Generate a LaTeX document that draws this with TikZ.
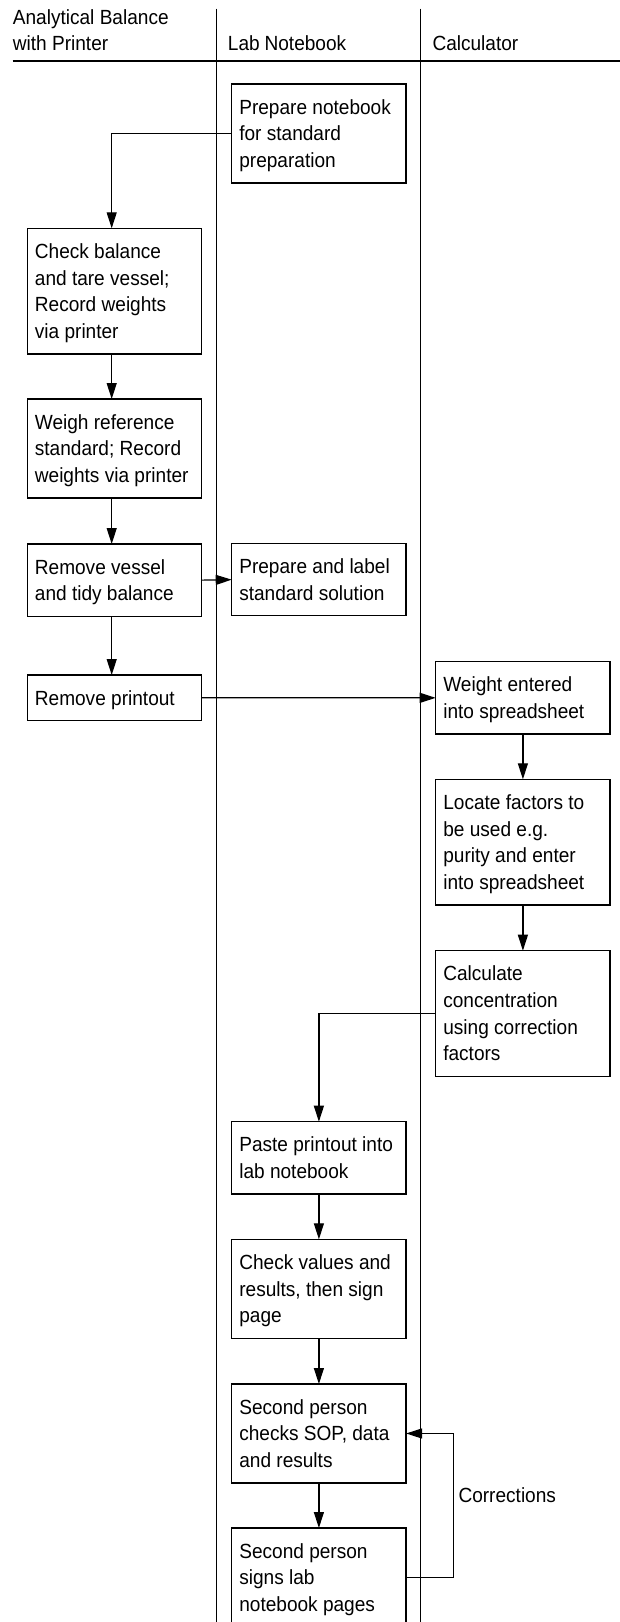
\documentclass[tikz,border=0pt]{standalone}
\usepackage{fontspec}
\setmainfont[FakeStretch=0.93,WordSpace=0.93]{Liberation Sans}
\usetikzlibrary{arrows.meta}
% strut that fixes the first and last line of every box
\newcommand{\flowstrut}{\rule[-4.9pt]{0pt}{24.4pt}}
\begin{document}
\begin{tikzpicture}[x=1pt,y=-1pt,
  every node/.style={font=\fontsize{20.5pt}{26.67pt}\selectfont},
  stepbox/.style={draw, line width=1.3pt, anchor=north west, outer sep=0pt,
    inner xsep=7.6pt, inner ysep=10.6pt, text width=159.2pt, align=left,
    execute at begin node={\spaceskip=5.3pt\relax}},
  lanelabel/.style={anchor=base west, inner sep=0pt},
  arr/.style={-{Triangle[length=16pt,width=10pt]}, line width=1.2pt},
  lane/.style={line width=1.2pt}]
\useasboundingbox (0,0) rectangle (620,1622);
\clip (0,0) rectangle (620,1622);

% swimlane header
\node[anchor=north west, inner sep=0pt, align=left,
  execute at begin node={\spaceskip=5.3pt\relax}] (hA) at (12.7,4.5)
  {\flowstrut Analytical Balance\\with Printer\flowstrut};
\node[lanelabel] (hB) at (227.7,50.7) {Lab Notebook};
\node[lanelabel] (hC) at (432.3,50.7) {Calculator};
\draw[line width=2pt] (12.7,61) -- (620,61);
\draw[lane] (216.7,8.5) -- (216.7,1622);
\draw[lane] (420.5,8.5) -- (420.5,1622);

% process steps
\node[stepbox] (b1) at (231.7,84) {\flowstrut Prepare notebook\\for standard\\preparation\flowstrut};
\node[stepbox] (b2) at (27.3,228.3) {\flowstrut Check balance\\and tare vessel;\\Record weights\\via printer\flowstrut};
\node[stepbox] (b3) at (27.3,399) {\flowstrut Weigh reference\\standard; Record\\weights via printer\flowstrut};
\node[stepbox] (b4) at (27.3,544) {\flowstrut Remove vessel\\and tidy balance\flowstrut};
\node[stepbox] (b5) at (231.7,543.5) {\flowstrut Prepare and label\\standard solution\flowstrut};
\node[stepbox] (b6) at (27.3,675) {\flowstrut Remove printout\flowstrut};
\node[stepbox] (b7) at (435.7,661.7) {\flowstrut Weight entered\\into spreadsheet\flowstrut};
\node[stepbox] (b8) at (435.7,779.3) {\flowstrut Locate factors to\\be used e.g.\\purity and enter\\into spreadsheet\flowstrut};
\node[stepbox] (b9) at (435.7,950.7) {\flowstrut Calculate\\concentration\\using correction\\factors\flowstrut};
\node[stepbox] (b10) at (231.7,1121.7) {\flowstrut Paste printout into\\lab notebook\flowstrut};
\node[stepbox] (b11) at (231.7,1239.3) {\flowstrut Check values and\\results, then sign\\page\flowstrut};
\node[stepbox] (b12) at (231.7,1384) {\flowstrut Second person\\checks SOP, data\\and results\flowstrut};
\node[stepbox] (b13) at (231.7,1528) {\flowstrut Second person\\signs lab\\notebook pages\flowstrut};

% flow
\draw[arr] (b1.west) -| ([xshift=-2.8pt]b2.north);
\draw[arr] ([xshift=-2.8pt]b2.south) -- ([xshift=-2.8pt]b3.north);
\draw[arr] ([xshift=-2.8pt]b3.south) -- ([xshift=-2.8pt]b4.north);
\draw[arr] (b4.east) -- (b5.west);
\draw[arr] ([xshift=-2.8pt]b4.south) -- ([xshift=-2.8pt]b6.north);
\draw[arr] (b6.east) -- (b7.west);
\draw[arr] (b7.south) -- (b8.north);
\draw[arr] (b8.south) -- (b9.north);
\draw[arr] (b9.west) -| (b10.north);
\draw[arr] (b10.south) -- (b11.north);
\draw[arr] (b11.south) -- (b12.north);
\draw[arr] (b12.south) -- (b13.north);

% correction loop
\coordinate (loop) at (453.3,1500);
\draw[arr] (b13.east) -| (loop) |- (b12.east);
\node[lanelabel] (corr) at (458.3,1502.7) {Corrections};
\end{tikzpicture}
\end{document}
